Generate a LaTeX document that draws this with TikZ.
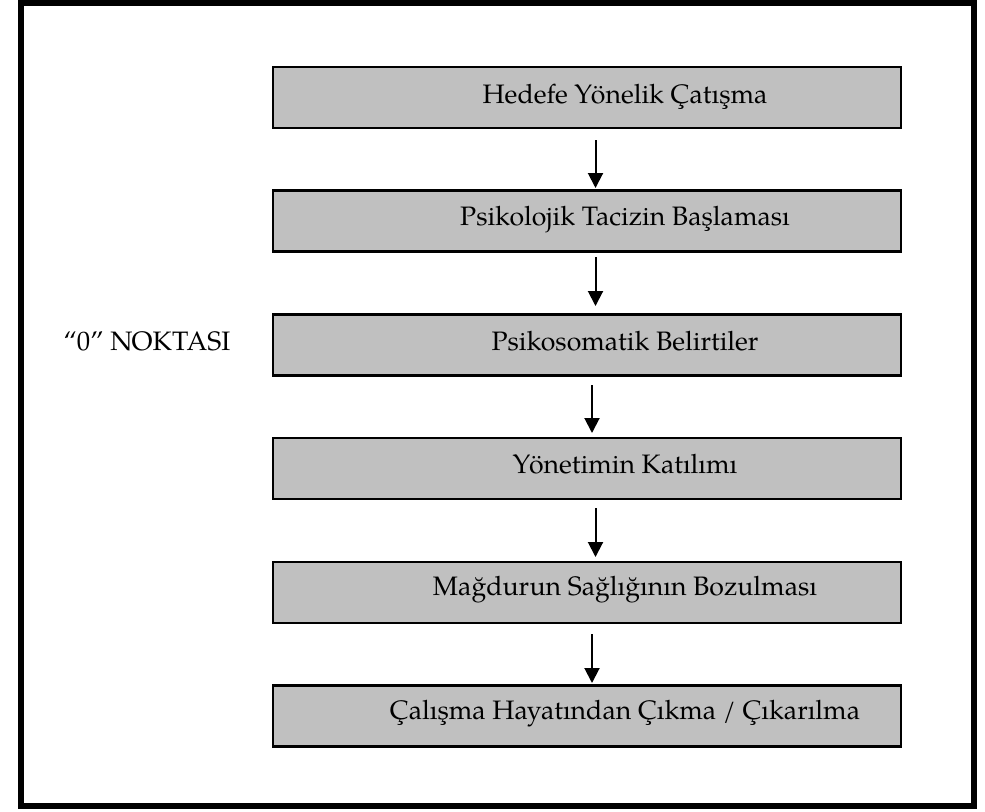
\documentclass[tikz,border=0pt]{standalone}
\usepackage{fontspec}
\setmainfont{TeX Gyre Pagella}
\usetikzlibrary{arrows.meta}
\definecolor{boxgray}{HTML}{C0C0C0}
\tikzset{
  stage/.style={draw=black, line width=1.9pt, fill=boxgray, minimum width=471pt, minimum height=45.75pt, inner sep=0pt, outer sep=0pt},
  lbl/.style={anchor=base, inner sep=0pt, font=\fontsize{20pt}{24pt}\selectfont},
  arr/.style={line width=1.5pt, -{Triangle[length=11.25pt, width=11.25pt]}}
}
\begin{document}
\begin{tikzpicture}[x=0.75pt, y=-0.75pt]
\useasboundingbox (0,0) rectangle (985,811);
\draw[line width=4.5pt] (21,3) rectangle (974,806);
\node[stage] (b1) at (587,97.5) {};
\node[stage] (b2) at (587,221.2) {};
\node[stage] (b3) at (587,344.9) {};
\node[stage] (b4) at (587,468.6) {};
\node[stage] (b5) at (587,592.3) {};
\node[stage] (b6) at (587,716) {};
\node[lbl] (t1) at (625,103) {Hedefe Yönelik Çatışma};
\node[lbl] (t2) at (625,225) {Psikolojik Tacizin Başlaması};
\node[lbl] (t3) at (625,350) {Psikosomatik Belirtiler};
\node[lbl] (t4) at (625,473) {Yönetimin Katılımı};
\node[lbl] (t5) at (625,595) {Mağdurun Sağlığının Bozulması};
\node[lbl] (t6) at (625,719) {Çalışma Hayatından Çıkma / Çıkarılma};
\node[lbl] (zero) at (147,350) {“0” NOKTASI};
\draw[arr] ([shift={(8.5,12)}]b1.south) -- ([shift={(8.5,-2.7)}]b2.north);
\draw[arr] ([shift={(8.5,5.3)}]b2.south) -- ([shift={(8.5,-8.4)}]b3.north);
\draw[arr] ([shift={(5,9.6)}]b3.south) -- ([shift={(5,-5.1)}]b4.north);
\draw[arr] ([shift={(8.5,8.9)}]b4.south) -- ([shift={(8.5,-4.8)}]b5.north);
\draw[arr] ([shift={(5,11.2)}]b5.south) -- ([shift={(5,-2.5)}]b6.north);
\end{tikzpicture}
\end{document}
